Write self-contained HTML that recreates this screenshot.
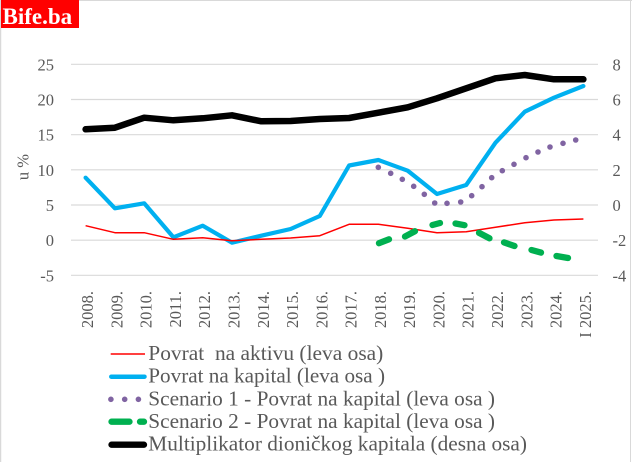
<!DOCTYPE html>
<html>
<head>
<meta charset="utf-8">
<style>
  html,body{margin:0;padding:0;background:#fff;}
  svg{display:block;}
  text{font-family:"Liberation Serif","Times New Roman",serif;}
</style>
</head>
<body>
<svg width="632" height="462" viewBox="0 0 632 462" xmlns="http://www.w3.org/2000/svg">
  <rect x="0" y="0" width="632" height="462" fill="#fff"/>
  <!-- border -->
  <line x1="0.5" y1="0" x2="0.5" y2="462" stroke="#d9d9d9" stroke-width="1.5"/>
  <line x1="0" y1="0.5" x2="632" y2="0.5" stroke="#d9d9d9" stroke-width="1"/>
  <line x1="630.5" y1="0" x2="630.5" y2="462" stroke="#d9d9d9" stroke-width="1"/>

  <!-- logo -->
  <rect x="1" y="0" width="78" height="28" fill="#ff0000"/>
  <text x="2.5" y="24" font-size="23" font-weight="bold" fill="#fff">Bife.ba</text>

  <!-- gridlines -->
  <g stroke="#d9d9d9" stroke-width="1.2">
    <line x1="71" y1="64.3" x2="598" y2="64.3"/>
    <line x1="71" y1="99.5" x2="598" y2="99.5"/>
    <line x1="71" y1="134.7" x2="598" y2="134.7"/>
    <line x1="71" y1="169.8" x2="598" y2="169.8"/>
    <line x1="71" y1="205" x2="598" y2="205"/>
    <line x1="71" y1="240.2" x2="598" y2="240.2"/>
    <line x1="71" y1="275.3" x2="598" y2="275.3"/>
  </g>

  <!-- left axis labels -->
  <g font-size="16.5" fill="#595959" text-anchor="end">
    <text x="54" y="70.3">25</text>
    <text x="54" y="105.5">20</text>
    <text x="54" y="140.7">15</text>
    <text x="54" y="175.8">10</text>
    <text x="54" y="211">5</text>
    <text x="54" y="246.2">0</text>
    <text x="54" y="281.3">-5</text>
  </g>
  <!-- right axis labels -->
  <g font-size="16.5" fill="#595959" text-anchor="start">
    <text x="612.5" y="70.3">8</text>
    <text x="612.5" y="105.5">6</text>
    <text x="612.5" y="140.7">4</text>
    <text x="612.5" y="175.8">2</text>
    <text x="612.5" y="211">0</text>
    <text x="612.5" y="246.2">-2</text>
    <text x="612.5" y="281.3">-4</text>
  </g>
  <!-- y axis title -->
  <text transform="translate(28.5,167) rotate(-90)" font-size="16.5" fill="#595959" text-anchor="middle">u %</text>

  <!-- x labels -->
  <g font-size="16.5" fill="#595959" text-anchor="end">
    <text transform="translate(93.1,291) rotate(-90)">2008.</text>
    <text transform="translate(122.4,291) rotate(-90)">2009.</text>
    <text transform="translate(151.7,291) rotate(-90)">2010.</text>
    <text transform="translate(180.9,291) rotate(-90)">2011.</text>
    <text transform="translate(210.2,291) rotate(-90)">2012.</text>
    <text transform="translate(239.5,291) rotate(-90)">2013.</text>
    <text transform="translate(268.8,291) rotate(-90)">2014.</text>
    <text transform="translate(298.1,291) rotate(-90)">2015.</text>
    <text transform="translate(327.3,291) rotate(-90)">2016.</text>
    <text transform="translate(356.6,291) rotate(-90)">2017.</text>
    <text transform="translate(385.9,291) rotate(-90)">2018.</text>
    <text transform="translate(415.2,291) rotate(-90)">2019.</text>
    <text transform="translate(444.5,291) rotate(-90)">2020.</text>
    <text transform="translate(473.7,291) rotate(-90)">2021.</text>
    <text transform="translate(503,291) rotate(-90)">2022.</text>
    <text transform="translate(532.3,291) rotate(-90)">2023.</text>
    <text transform="translate(561.5,291) rotate(-90)">2024.</text>
    <text transform="translate(590.9,291) rotate(-90)" style="white-space:pre">I 2025.</text>
  </g>

  <!-- Black: multiplikator -->
  <polyline fill="none" stroke="#000" stroke-width="6.5" stroke-linecap="round" stroke-linejoin="round"
    points="85.6,129.3 114.9,127.7 144.2,117.7 173.4,120.3 202.7,118.3 232,115.3 261.3,121.3 290.6,121 319.8,119 349.1,118 378.4,112.7 407.7,107.3 437,98.3 466.2,88.3 495.5,78.3 524.8,75 554,79.3 583.4,79.3"/>

  <!-- Blue: povrat na kapital -->
  <polyline fill="none" stroke="#00b0f0" stroke-width="4.2" stroke-linecap="round" stroke-linejoin="round"
    points="85.6,177.7 114.9,208.3 144.2,203.3 173.4,237.3 202.7,225.7 232,242.7 261.3,235.7 290.6,229 319.8,216 349.1,165.5 378.4,160 407.7,170.7 437,194 466.2,185 495.5,142.7 524.8,111.7 554,97.7 583.4,86"/>

  <!-- Red: povrat na aktivu -->
  <polyline fill="none" stroke="#ff0000" stroke-width="1.5" stroke-linejoin="round"
    points="85.6,225.7 114.9,232.7 144.2,232.7 173.4,239.3 202.7,237.7 232,240.7 261.3,239.3 290.6,238 319.8,235.7 349.1,224.3 378.4,224.3 407.7,228.3 437,232.7 466.2,231.7 495.5,227.3 524.8,222.7 554,220 583.4,219"/>

  <!-- Purple dots: scenario 1 -->
  <g fill="#8064a2">
    <circle cx="378.3" cy="167.3" r="2.8"/>
    <circle cx="390.7" cy="173.3" r="2.8"/>
    <circle cx="402.3" cy="179.3" r="2.8"/>
    <circle cx="413.7" cy="186.3" r="2.8"/>
    <circle cx="424.3" cy="194.3" r="2.8"/>
    <circle cx="434.7" cy="203" r="2.8"/>
    <circle cx="447" cy="203.3" r="2.8"/>
    <circle cx="460.7" cy="202" r="2.8"/>
    <circle cx="471.7" cy="195.7" r="2.8"/>
    <circle cx="482" cy="186.7" r="2.8"/>
    <circle cx="491.7" cy="177.7" r="2.8"/>
    <circle cx="502.3" cy="170.7" r="2.8"/>
    <circle cx="514" cy="164.3" r="2.8"/>
    <circle cx="526" cy="157.7" r="2.8"/>
    <circle cx="538" cy="152" r="2.8"/>
    <circle cx="550" cy="147" r="2.8"/>
    <circle cx="563" cy="143.3" r="2.8"/>
    <circle cx="575.7" cy="140" r="2.8"/>
  </g>

  <!-- Green dashes: scenario 2 -->
  <g stroke="#00b050" stroke-width="6.3" stroke-linecap="round" fill="none">
    <line x1="379" y1="243.2" x2="389" y2="239.3"/>
    <line x1="405" y1="236.5" x2="415" y2="231.2"/>
    <line x1="432.5" y1="225" x2="440" y2="223"/>
    <line x1="455.5" y1="223.5" x2="464.5" y2="225.2"/>
    <line x1="479" y1="232.8" x2="489.5" y2="238.3"/>
    <line x1="504" y1="242.4" x2="514.5" y2="246"/>
    <line x1="531.5" y1="250" x2="541" y2="252.6"/>
    <line x1="556.5" y1="256" x2="568" y2="258"/>
  </g>

  <!-- Legend -->
  <line x1="110.7" y1="354" x2="145" y2="354" stroke="#ff0000" stroke-width="1.5"/>
  <line x1="111.3" y1="376.7" x2="144.5" y2="376.7" stroke="#00b0f0" stroke-width="4.5" stroke-linecap="round"/>
  <g fill="#8064a2">
    <circle cx="110.9" cy="399.3" r="2.8"/>
    <circle cx="124.7" cy="399.3" r="2.8"/>
    <circle cx="138.4" cy="399.3" r="2.8"/>
  </g>
  <g stroke="#00b050" stroke-width="6.3" stroke-linecap="round">
    <line x1="111.5" y1="421.7" x2="129.5" y2="421.7"/>
    <line x1="140" y1="421.7" x2="144" y2="421.7"/>
  </g>
  <line x1="111.5" y1="444.7" x2="144" y2="444.7" stroke="#000" stroke-width="6.3" stroke-linecap="round"/>

  <g font-size="21" fill="#595959">
    <text x="148.3" y="360" textLength="235" lengthAdjust="spacingAndGlyphs" style="white-space:pre">Povrat  na aktivu (leva osa)</text>
    <text x="148.3" y="382.7" textLength="236.7" lengthAdjust="spacingAndGlyphs" style="white-space:pre">Povrat na kapital (leva osa )</text>
    <text x="148.3" y="405.4" textLength="346.7" lengthAdjust="spacingAndGlyphs" style="white-space:pre">Scenario 1 - Povrat na kapital (leva osa )</text>
    <text x="148.3" y="428" textLength="346.7" lengthAdjust="spacingAndGlyphs" style="white-space:pre">Scenario 2 - Povrat na kapital (leva osa )</text>
    <text x="148.3" y="450.5" textLength="378.7" lengthAdjust="spacingAndGlyphs">Multiplikator dioničkog kapitala (desna osa)</text>
  </g>
</svg>
</body>
</html>
